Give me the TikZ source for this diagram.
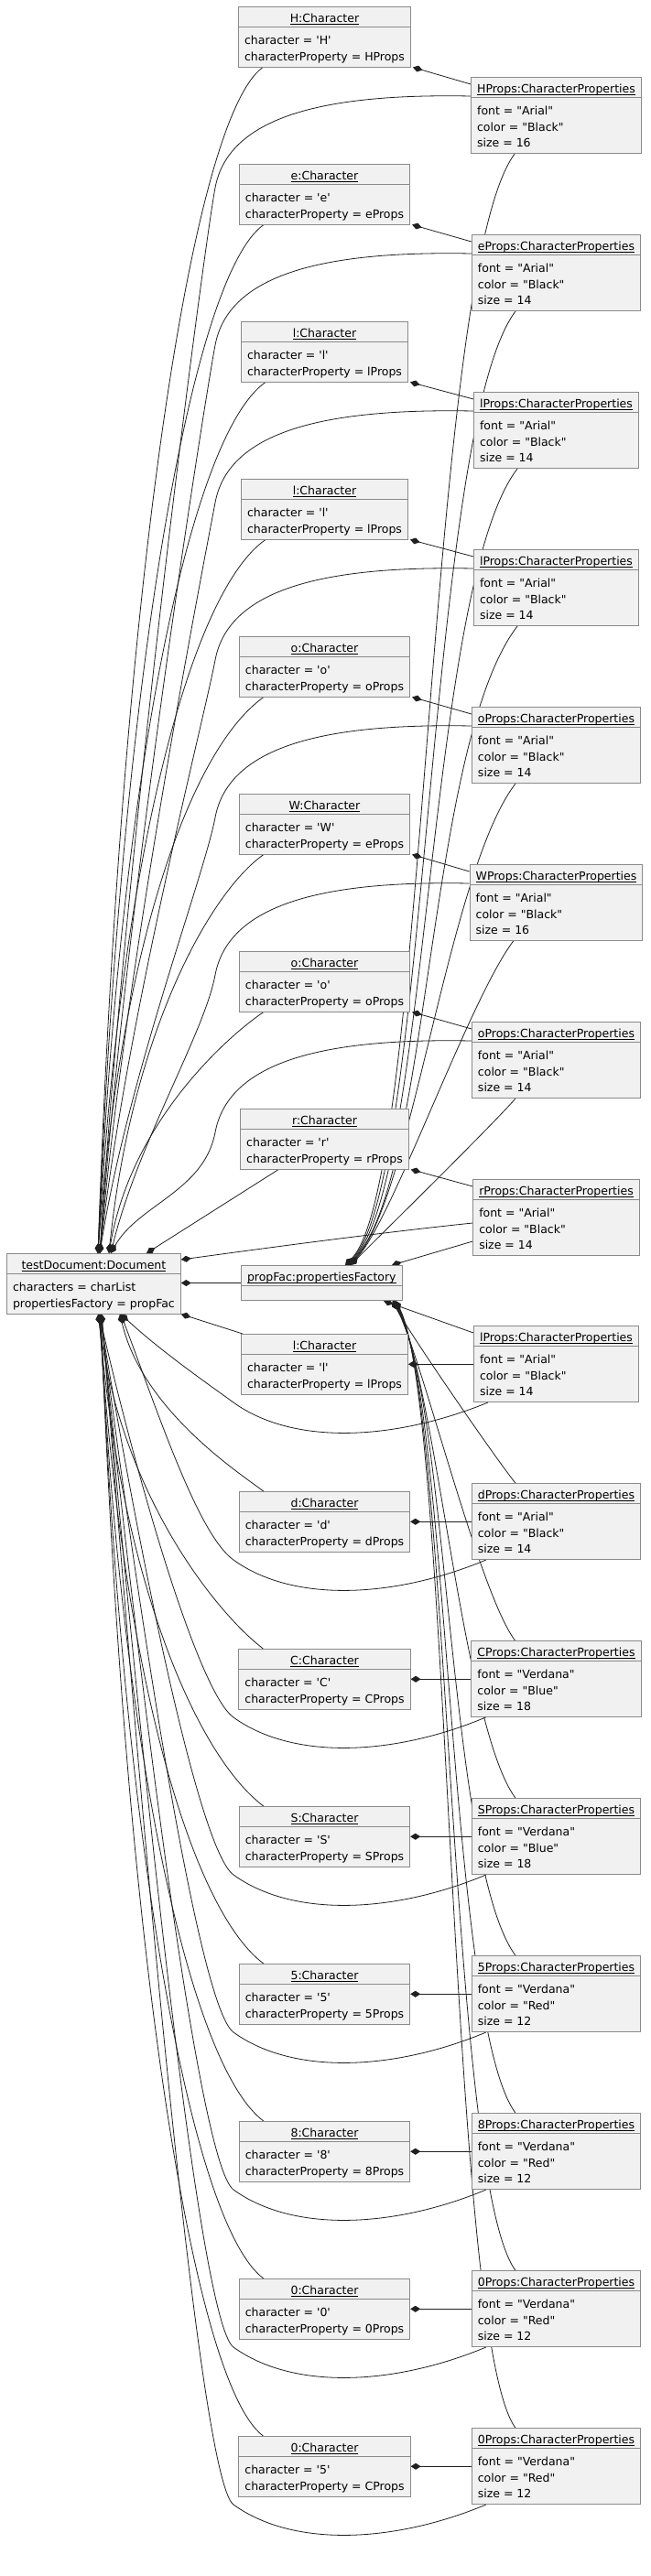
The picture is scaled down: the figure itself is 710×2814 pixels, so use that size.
\documentclass[tikz,border=0pt]{standalone}
\usepackage{fontspec}
\newfontfamily\objfont{DejaVu Sans}
\usetikzlibrary{shapes.multipart,arrows.meta,calc,backgrounds}
\definecolor{boxfill}{HTML}{F1F1F1}
\definecolor{boxline}{HTML}{8A8A8A}
\definecolor{linecol}{HTML}{202020}
\newcommand\hdr[1]{\setbox0\hbox{#1}\rule[-5pt]{0pt}{21pt}\rlap{\rule[-2.6pt]{\wd0}{0.8pt}}\box0}
\newcommand\bodyii[2]{\vbox{\offinterlineskip\hbox{\rule[-3pt]{0pt}{21.5pt}#1}\hbox{\rule[-6.5pt]{0pt}{21pt}#2}}}
\newcommand\bodyiii[3]{\vbox{\offinterlineskip\hbox{\rule[-3pt]{0pt}{21.5pt}#1}\hbox{\rule[-3pt]{0pt}{17.5pt}#2}\hbox{\rule[-6.5pt]{0pt}{21pt}#3}}}
\tikzset{
  obj/.style={rectangle split, rectangle split parts=2, rectangle split part align={center,left},
    draw=boxline, fill=boxfill, line width=1pt, inner xsep=6.5pt, inner ysep=0pt,
    font={\objfont\fontsize{12.5pt}{15pt}\selectfont}, anchor=north},
  comp/.style={draw=linecol, line width=0.8pt, {Diamond[length=11pt,width=7pt]}-},
}
\begin{document}
\begin{tikzpicture}[x=1pt,y=-1pt]
\useasboundingbox (0,0) rectangle (710,2814);
% ---------- upper characters and properties ----------
\node[obj] (cu0) at (354.5,7) {\hdr{H:Character}\nodepart{two}\bodyii{character = 'H'}{characterProperty = HProps}};
\node[obj] (pu0) at (607.5,84) {\hdr{HProps:CharacterProperties}\nodepart{two}\bodyiii{font = "Arial"}{color = "Black"}{size = 16}};
\node[obj] (cu1) at (354.5,179) {\hdr{e:Character}\nodepart{two}\bodyii{character = 'e'}{characterProperty = eProps}};
\node[obj] (pu1) at (607.5,256) {\hdr{eProps:CharacterProperties}\nodepart{two}\bodyiii{font = "Arial"}{color = "Black"}{size = 14}};
\node[obj] (cu2) at (354.5,351) {\hdr{l:Character}\nodepart{two}\bodyii{character = 'l'}{characterProperty = lProps}};
\node[obj] (pu2) at (607.5,428) {\hdr{lProps:CharacterProperties}\nodepart{two}\bodyiii{font = "Arial"}{color = "Black"}{size = 14}};
\node[obj] (cu3) at (354.5,523) {\hdr{l:Character}\nodepart{two}\bodyii{character = 'l'}{characterProperty = lProps}};
\node[obj] (pu3) at (607.5,600) {\hdr{lProps:CharacterProperties}\nodepart{two}\bodyiii{font = "Arial"}{color = "Black"}{size = 14}};
\node[obj] (cu4) at (354.5,695) {\hdr{o:Character}\nodepart{two}\bodyii{character = 'o'}{characterProperty = oProps}};
\node[obj] (pu4) at (607.5,772) {\hdr{oProps:CharacterProperties}\nodepart{two}\bodyiii{font = "Arial"}{color = "Black"}{size = 14}};
\node[obj] (cu5) at (354.5,867) {\hdr{W:Character}\nodepart{two}\bodyii{character = 'W'}{characterProperty = eProps}};
\node[obj] (pu5) at (607.5,944) {\hdr{WProps:CharacterProperties}\nodepart{two}\bodyiii{font = "Arial"}{color = "Black"}{size = 16}};
\node[obj] (cu6) at (354.5,1039) {\hdr{o:Character}\nodepart{two}\bodyii{character = 'o'}{characterProperty = oProps}};
\node[obj] (pu6) at (607.5,1116) {\hdr{oProps:CharacterProperties}\nodepart{two}\bodyiii{font = "Arial"}{color = "Black"}{size = 14}};
\node[obj] (cu7) at (354.5,1211) {\hdr{r:Character}\nodepart{two}\bodyii{character = 'r'}{characterProperty = rProps}};
\node[obj] (pu7) at (607.5,1288) {\hdr{rProps:CharacterProperties}\nodepart{two}\bodyiii{font = "Arial"}{color = "Black"}{size = 14}};
% ---------- document and factory ----------
\node[obj, anchor=north west] (doc) at (7,1369) {\hdr{testDocument:Document}\nodepart{two}\bodyii{characters = charList}{propertiesFactory = propFac}};
\node[obj, anchor=north west] (pf) at (263,1382) {\hdr{propFac:propertiesFactory}\nodepart{two}\rule{0pt}{15pt}};
% ---------- lower characters and properties ----------
\node[obj] (cl0) at (354.5,1457) {\hdr{l:Character}\nodepart{two}\bodyii{character = 'l'}{characterProperty = lProps}};
\node[obj] (pl0) at (607.5,1448) {\hdr{lProps:CharacterProperties}\nodepart{two}\bodyiii{font = "Arial"}{color = "Black"}{size = 14}};
\node[obj] (cl1) at (354.5,1629) {\hdr{d:Character}\nodepart{two}\bodyii{character = 'd'}{characterProperty = dProps}};
\node[obj] (pl1) at (607.5,1620) {\hdr{dProps:CharacterProperties}\nodepart{two}\bodyiii{font = "Arial"}{color = "Black"}{size = 14}};
\node[obj] (cl2) at (354.5,1801) {\hdr{C:Character}\nodepart{two}\bodyii{character = 'C'}{characterProperty = CProps}};
\node[obj] (pl2) at (607.5,1792) {\hdr{CProps:CharacterProperties}\nodepart{two}\bodyiii{font = "Verdana"}{color = "Blue"}{size = 18}};
\node[obj] (cl3) at (354.5,1973) {\hdr{S:Character}\nodepart{two}\bodyii{character = 'S'}{characterProperty = SProps}};
\node[obj] (pl3) at (607.5,1964) {\hdr{SProps:CharacterProperties}\nodepart{two}\bodyiii{font = "Verdana"}{color = "Blue"}{size = 18}};
\node[obj] (cl4) at (354.5,2145) {\hdr{5:Character}\nodepart{two}\bodyii{character = '5'}{characterProperty = 5Props}};
\node[obj] (pl4) at (607.5,2136) {\hdr{5Props:CharacterProperties}\nodepart{two}\bodyiii{font = "Verdana"}{color = "Red"}{size = 12}};
\node[obj] (cl5) at (354.5,2317) {\hdr{8:Character}\nodepart{two}\bodyii{character = '8'}{characterProperty = 8Props}};
\node[obj] (pl5) at (607.5,2308) {\hdr{8Props:CharacterProperties}\nodepart{two}\bodyiii{font = "Verdana"}{color = "Red"}{size = 12}};
\node[obj] (cl6) at (354.5,2489) {\hdr{0:Character}\nodepart{two}\bodyii{character = '0'}{characterProperty = 0Props}};
\node[obj] (pl6) at (607.5,2480) {\hdr{0Props:CharacterProperties}\nodepart{two}\bodyiii{font = "Verdana"}{color = "Red"}{size = 12}};
\node[obj] (cl7) at (354.5,2661) {\hdr{0:Character}\nodepart{two}\bodyii{character = '5'}{characterProperty = CProps}};
\node[obj] (pl7) at (607.5,2652) {\hdr{0Props:CharacterProperties}\nodepart{two}\bodyiii{font = "Verdana"}{color = "Red"}{size = 12}};

\begin{scope}[on background layer]
% character -> its properties (upper: diagonal, lower: horizontal)
\foreach \i in {0,...,7}{
  \draw[comp] ($(cu\i.south east)+(2,0)$) -- ($(pu\i.north west)+(0,8)$);
  \draw[comp] (cl\i.east) -- (cl\i.east -| pl\i.west);
}
% document -> upper characters
\foreach \i in {0,...,6}{
  \pgfmathsetmacro\Sy{7+172*\i+63.5}
  \pgfmathsetmacro\Ex{\i<5 ? 107 : 119}
  \pgfmathsetmacro\L{1369-\Sy}
  \pgfmathsetmacro\f{min(1,\L/600)}
  \draw[comp] ($(doc.north west)+(\Ex-7,0)$) .. controls (\Ex+25,\Sy+0.45*\L) and (288-80*\f,\Sy+60*\f) .. ($(cu\i.south west)+(27,0)$);
}
% document -> upper properties
\foreach \i in {0,...,6}{
  \pgfmathsetmacro\y{7+172*\i+98}
  \pgfmathsetmacro\My{\y+100}
  \pgfmathsetmacro\Ex{\i<5 ? 109 : 121}
  \pgfmathsetmacro\L{1369-\My}
  \draw[comp] ($(doc.north west)+(\Ex-7,0)$) .. controls (\Ex+30,1369-0.4*\L) and (223,\y+164) .. (235,\My) .. controls (250,\y+20) and (360,\y-3) .. ($(pu\i.north west)+(0,21)$);
}
% factory -> upper properties
\foreach \i in {0,...,6}{
  \pgfmathsetmacro\Sy{7+172*\i+77+81}
  \pgfmathsetmacro\Ex{377+\i}
  \pgfmathsetmacro\L{1382-\Sy}
  \pgfmathsetmacro\f{min(1,\L/700)}
  \draw[comp] ($(pf.north west)+(\Ex-263,0)$) .. controls (\Ex+90*\f,1382-92*\f) and (560-94*\f,\Sy+132*\f) .. ($(pu\i.south west)+(48,0)$);
}
% r row
\draw[comp] ($(pf.north west)+(165,0)$) -- ($(pu7.north west)+(0,68)$);
\draw[comp] ($(doc.north east)+(0,7)$) .. controls (300,1362) and (420,1346) .. ($(pu7.north west)+(0,48)$);
\draw[comp] ($(doc.north west)+(153,0)$) -- ($(cu7.south west)+(42,0)$);
% document -> factory
\draw[comp] (pf.west -| doc.east) -- (pf.west);
% first lower row
\draw[comp] (doc.south east) -- ($(cl0.north west)+(2,0)$);
\draw[comp] ($(pf.south west)+(156,0)$) -- ($(pl0.north west)+(0,8)$);
% document -> lower characters
\foreach \j in {1,...,7}{
  \pgfmathsetmacro\T{1457+172*\j}
  \pgfmathsetmacro\Ex{\j<2 ? 131 : 106+\j*0.6}
  \pgfmathsetmacro\L{\T-1433}
  \pgfmathsetmacro\f{min(1,\L/600)}
  \draw[comp] ($(doc.south west)+(\Ex-7,0)$) .. controls (\Ex+25,\T-0.45*\L) and (288-80*\f,\T-60*\f) .. ($(cl\j.north west)+(27,0)$);
}
% factory -> lower properties
\foreach \j in {1,...,7}{
  \pgfmathsetmacro\Sy{1457+172*\j-9}
  \pgfmathsetmacro\Ex{428+\j*0.6}
  \pgfmathsetmacro\L{\Sy-1420}
  \pgfmathsetmacro\f{min(1,\L/700)}
  \draw[comp] ($(pf.south west)+(\Ex-263,0)$) .. controls (\Ex+60*\f,1420+120*\f) and (560-70*\f,\Sy-100*\f) .. ($(pl\j.north west)+(48,0)$);
}
% document -> lower properties
\foreach \j in {0,...,7}{
  \pgfmathsetmacro\y{1457+172*\j-9+81}
  \pgfmathsetmacro\Ex{\j<2 ? 132 : 107+\j*0.6}
  \pgfmathsetmacro\L{\y+3-1433}
  \draw[comp] ($(doc.south west)+(\Ex-7,0)$) .. controls (\Ex+40,1433+0.4*\L) and (216,\y-25) .. (255,\y+3) .. controls (320,\y+50) and (430,\y+45) .. ($(pl\j.south west)+(16,0)$);
}
\end{scope}
\end{tikzpicture}
\end{document}
